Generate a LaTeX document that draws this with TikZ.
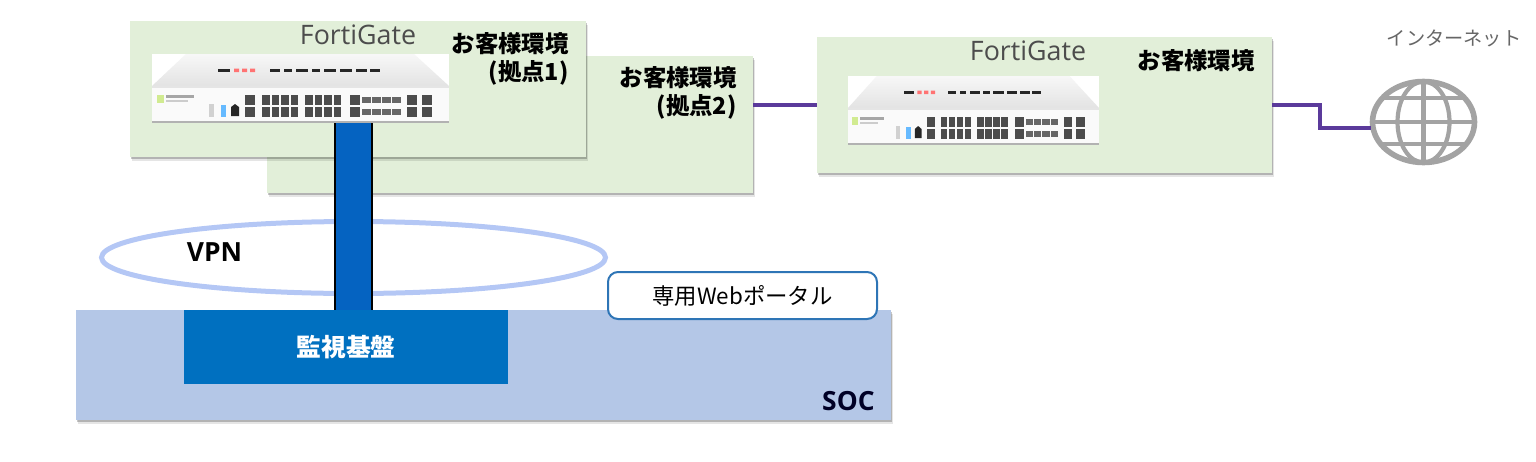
\documentclass[tikz,border=0pt]{standalone}
\usepackage{fontspec}
\setmainfont{Noto Sans CJK JP}
\newfontfamily\latinfont{Open Sans}
\usetikzlibrary{shapes.geometric,shadows}
\definecolor{sitegreen}{HTML}{E2EFD9}
\definecolor{socblue}{HTML}{B4C7E7}
\definecolor{kibanblue}{HTML}{0070C0}
\definecolor{tubeblue}{HTML}{0563C1}
\definecolor{vpnring}{HTML}{B4C7F5}
\definecolor{portalline}{HTML}{2E75B6}
\definecolor{wanline}{HTML}{5B3A9B}
\definecolor{globegray}{HTML}{A3A3A3}
\tikzset{
  softshadow/.style={
    general shadow={shadow xshift=0.9pt,shadow yshift=-2pt,fill=black,opacity=.10},
    general shadow={shadow xshift=0.5pt,shadow yshift=-1.2pt,fill=black,opacity=.22}},
  area/.style={rectangle,anchor=north west,inner sep=0pt,outer sep=0pt,softshadow},
  sitebox/.style={area,fill=sitegreen},
  socbox/.style={area,fill=socblue},
  kibanbox/.style={rectangle,anchor=north west,inner sep=0pt,outer sep=0pt,fill=kibanblue,text=white,
     font=\fontsize{12.4}{15}\selectfont\bfseries},
  portalbox/.style={rectangle,anchor=north west,draw=portalline,line width=1pt,fill=white,rounded corners=5pt,
     inner sep=0pt,font=\fontsize{11.2}{14}\selectfont},
  vpnellipse/.style={ellipse,draw=vpnring,line width=2.5pt,inner sep=0pt,outer sep=0pt},
  globeshape/.style={ellipse,draw=globegray,line width=2.8pt,inner sep=0pt,outer sep=0pt,
     minimum width=51pt,minimum height=40.5pt},
  globeline/.style={draw=globegray,line width=2.1pt},
  sitelabel/.style={anchor=east,align=right,inner sep=0pt,font=\fontsize{11.7}{14}\selectfont\bfseries},
  productlabel/.style={inner sep=0pt,text=black!70,font=\latinfont\fontsize{13.4}{15}\selectfont},
  boldlatin/.style={inner sep=0pt,font=\latinfont\bfseries\fontsize{13.2}{14}\selectfont},
  netlabel/.style={inner sep=0pt,text=black!60,font=\fontsize{9.6}{12}\selectfont},
  wan/.style={draw=wanline,line width=1.9pt},
  tube/.style={draw=black,line width=1pt,double=tubeblue,double distance=17.3pt},
  devicebody/.style={rectangle,anchor=north west,inner sep=0pt,outer sep=0pt,fill=white},
  pics/appliance/.style={code={
    % local frame: 297 x 69 px, drawn from the device's north west corner
    \shade[top color=black!3,bottom color=black!11] (34,0) -- (262,0) -- (297,32) -- (0,32) -- cycle;
    \fill[black!2] (0,33) rectangle (297,67);
    \fill[black!30] (0,67) rectangle (297,69);
    \fill[black!10] (0,32) rectangle (297,33.5);
    % logo, as blurred in the picture
    \fill[black!85] (66,15) rectangle (78,17.5);
    \fill[red!55] (82,14.5) rectangle (87,18) (90,14.5) rectangle (95,18) (98,14.5) rectangle (103,18);
    \foreach \a/\b in {118/128,132/140,144/156,160/168,172/184,188/200,204/215,218/228}
      \fill[black!85] (\a,15) rectangle (\b,17.5);
    % front panel
    \fill[yellow!60!green!45] (5,41) rectangle (12,49);
    \fill[black!35] (14,41) rectangle (42,43.5);
    \fill[black!20] (14,46) rectangle (36,48);
    \fill[black!18] (57,50) rectangle (62,63);
    \fill[blue!45!cyan!60] (69,51) rectangle (74,63);
    \fill[black!85] (79,53) -- (83,50) -- (87,53) -- (87,62) -- (79,62) -- cycle;
    % port rows
    \foreach \yy in {41,52.5}{
      \foreach \a/\b in {93/103,198/208,255/265,270/280}
        \fill[black!70] (\a,\yy) rectangle (\b,\yy+10);
      \foreach \a in {110,119.5,129,138.5,153,162.5,172,181.5}
        \fill[black!70] (\a,\yy) rectangle (\a+7.5,\yy+10);
      \foreach \a in {210,220,230,240}
        \fill[black!60] (\a,\yy+2) rectangle (\a+8.5,\yy+8);
    }
  }}
}
\begin{document}
\begin{tikzpicture}[x=0.5pt,y=-0.5pt]
\useasboundingbox (0,0) rectangle (1536,461);

% SOC
\node[socbox,minimum width=407.5pt,minimum height=55pt] (soc) at (76,310) {};
\node[kibanbox,minimum width=162pt,minimum height=37pt] (kiban) at (184,310) {監視基盤};
\node[boldlatin,text=black!85!blue,anchor=east] (soclabel) at (875,401) {SOC};

% VPN ring
\node[vpnellipse,minimum width=252pt,minimum height=36pt] (vpn) at (353.5,257.5) {};
\node[boldlatin,anchor=center] (vpnlabel) at (214.5,252) {VPN};

% customer sites
\node[sitebox,minimum width=243pt,minimum height=68.5pt] (site2) at (267,56) {};
\node[sitebox,minimum width=228pt,minimum height=68pt] (site1) at (130,21) {};
\node[sitebox,minimum width=227.5pt,minimum height=68pt] (site3) at (817,37) {};

% devices
\node[devicebody,minimum width=148.5pt,minimum height=34.5pt] (dev1) at (152,54) {};
\pic at (dev1.north west) {appliance};
\node[devicebody,minimum width=125.5pt,minimum height=34.5pt] (dev3) at (848,76) {};
\pic[x=0.4226pt] at (dev3.north west) {appliance};

% tube
\draw[tube] (dev1.south -| vpn.center) -- (kiban.north -| vpn.center);

% labels
\node[productlabel] (fg1) at (358,35) {FortiGate};
\node[productlabel] (fg3) at (1028,51) {FortiGate};
\node[sitelabel] (lab1) at (569,59) {お客様環境\\(拠点1)};
\node[sitelabel] (lab2) at (737,93) {お客様環境\\(拠点2)};
\node[sitelabel] (lab3) at (1255,61) {お客様環境};

% portal
\node[portalbox,minimum width=134.5pt,minimum height=23.5pt] (portal) at (607,271) {専用Webポータル};

% internet
\node[netlabel] (netlabel) at (1454,38) {インターネット};
\node[globeshape] (globe) at (1423.5,122) {};
\begin{scope}[shift={(globe.center)}]
  \draw[globeline] (0,0) ellipse[x radius=13pt,y radius=20.25pt];
  \draw[globeline] (0,-40.5) -- (0,40.5);
  \draw[globeline] (-51,0) -- (51,0);
  \draw[globeline] (-41,-24) -- (41,-24);
  \draw[globeline] (-41,22) -- (41,22);
\end{scope}

% WAN links
\coordinate (globein) at (1371,128);
\draw[wan] (site2.east |- site3.west) -- (site3.west);
\draw[wan] (site3.east) -- ++(48,0) |- (globein);
\end{tikzpicture}
\end{document}
